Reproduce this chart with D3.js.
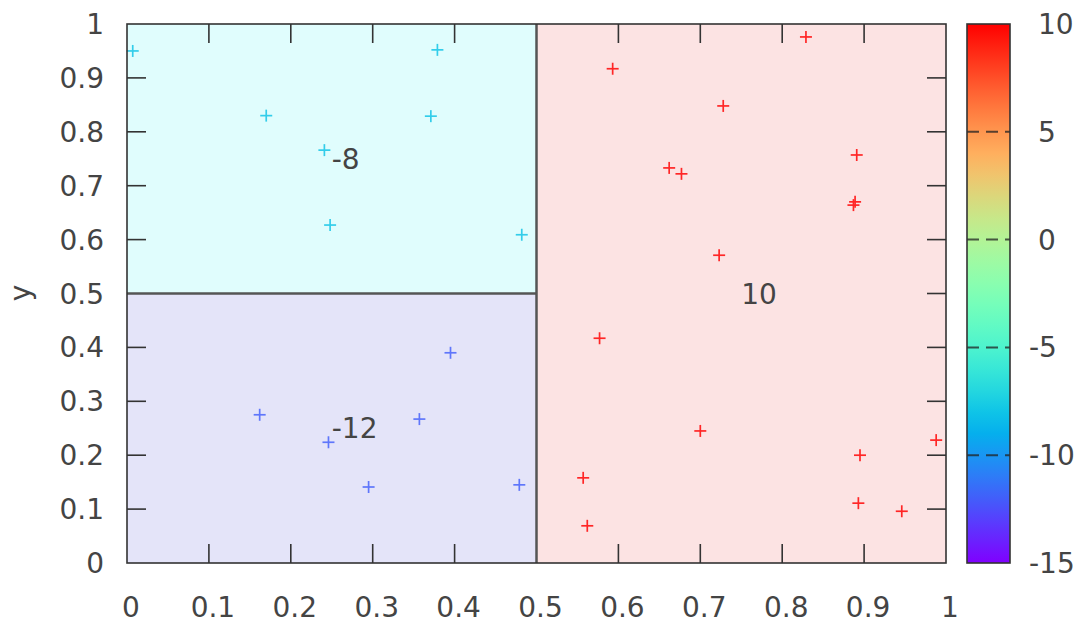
<!DOCTYPE html>
<html><head><meta charset="utf-8">
<script src="https://cdn.jsdelivr.net/npm/d3@7"></script>
<style>body{margin:0;background:#fff}text{font-family:"DejaVu Sans",sans-serif}</style>
</head><body><svg id="c" width="1079" height="625"></svg>
<script>
const xTicks = [0,0.1,0.2,0.3,0.4,0.5,0.6,0.7,0.8,0.9,1];
const yTicks = [0,0.1,0.2,0.3,0.4,0.5,0.6,0.7,0.8,0.9,1];
const cbTicks = [-15,-10,-5,0,5,10];
// regions
const regionX0 = [0, 0, 0.5];
const regionX1 = [0.5, 0.5, 1];
const regionY0 = [0.5, 0, 0];
const regionY1 = [1, 0.5, 1];
const regionValue = [-8, -12, 10];
const labelX = [0.25, 0.25, 0.75];
const labelY = [0.75, 0.25, 0.5];
// points per region
const cyanX = [0.007,0.17,0.241,0.379,0.371,0.248,0.482];
const cyanY = [0.95,0.83,0.766,0.952,0.829,0.627,0.609];
const blueX = [0.162,0.246,0.295,0.357,0.395,0.479];
const blueY = [0.275,0.224,0.141,0.267,0.39,0.145];
const redX = [0.593,0.829,0.728,0.662,0.677,0.891,0.887,0.889,0.723,0.577,0.7,0.988,0.895,0.557,0.562,0.893,0.946];
const redY = [0.917,0.976,0.848,0.733,0.722,0.757,0.664,0.67,0.571,0.417,0.245,0.228,0.2,0.158,0.069,0.111,0.096];

const svg = d3.select("#c");
const L=127,R=946,T=24,B=563;
const x = d3.scaleLinear().domain([0,1]).range([L,R]);
const y = d3.scaleLinear().domain([0,1]).range([B,T]);
const cb = d3.scaleLinear().domain([-15,10]).range([B,T]);
function pal(v){
  const t=(v+15)/25;
  const r=Math.min(1,Math.abs(2*t-0.5)), g=Math.max(0,Math.sin(Math.PI*t)), b=Math.max(0,Math.cos(Math.PI*t/2));
  return d3.rgb(r*255,g*255,b*255);
}
const regionFill = {"-8":"#e0fdfd","-12":"#e4e4f9","10":"#fce3e3"};
const textCol="#444", axisCol="#333", FS=28;

regionValue.forEach((v,i)=>{
  svg.append("rect").attr("x",x(regionX0[i])).attr("y",y(regionY1[i]))
    .attr("width",x(regionX1[i])-x(regionX0[i])).attr("height",y(regionY0[i])-y(regionY1[i]))
    .attr("fill",regionFill[v]);
});
svg.append("line").attr("x1",x(0)).attr("x2",x(0.5)).attr("y1",y(0.5)).attr("y2",y(0.5)).attr("stroke","#555").attr("stroke-width",2.5);
svg.append("line").attr("x1",x(0.5)).attr("x2",x(0.5)).attr("y1",y(0)).attr("y2",y(1)).attr("stroke","#555").attr("stroke-width",2.5);

function plus(xs,ys,v){
  const c=d3.interpolateRgb(pal(v),"#fff")(0.15);
  const g=svg.append("g").attr("stroke",c).attr("stroke-width",1.7);
  xs.forEach((xv,i)=>{
    const px=x(xv), py=y(ys[i]);
    g.append("line").attr("x1",px-6).attr("x2",px+6).attr("y1",py).attr("y2",py);
    g.append("line").attr("x1",px).attr("x2",px).attr("y1",py-6).attr("y2",py+6);
  });
}
plus(cyanX,cyanY,-8); plus(blueX,blueY,-12); plus(redX,redY,10);

regionValue.forEach((v,i)=>{
  svg.append("text").attr("x",x(labelX[i])).attr("y",y(labelY[i])).attr("dy","0.36em")
    .attr("font-size",FS).attr("fill",textCol).text(v);
});

const tl=19;
const inner = d=>d>0&&d<1;
const gt=svg.append("g").attr("stroke",axisCol).attr("stroke-width",1.6);
xTicks.filter(d=>inner(d)&&d!==0.5).forEach(d=>{
  gt.append("line").attr("x1",x(d)).attr("x2",x(d)).attr("y1",B).attr("y2",B-tl);
  gt.append("line").attr("x1",x(d)).attr("x2",x(d)).attr("y1",T).attr("y2",T+tl);
});
yTicks.filter(inner).forEach(d=>{
  if(d!==0.5) gt.append("line").attr("x1",L).attr("x2",L+tl).attr("y1",y(d)).attr("y2",y(d));
  gt.append("line").attr("x1",R).attr("x2",R-tl).attr("y1",y(d)).attr("y2",y(d));
});
svg.append("rect").attr("x",L).attr("y",T).attr("width",R-L).attr("height",B-T)
  .attr("fill","none").attr("stroke",axisCol).attr("stroke-width",1.6);

xTicks.forEach(d=>svg.append("text").attr("x",x(d)+4).attr("y",617).attr("text-anchor","middle")
  .attr("font-size",FS).attr("fill",textCol).text(d3.format("~g")(d)));
yTicks.forEach(d=>svg.append("text").attr("x",104).attr("y",y(d)).attr("dy","0.36em").attr("text-anchor","end")
  .attr("font-size",FS).attr("fill",textCol).text(d3.format("~g")(d)));
svg.append("text").attr("transform","translate(20,293) rotate(-90)").attr("text-anchor","middle").attr("dy","0.36em")
  .attr("font-size",FS).attr("fill",textCol).text("y");

const CL=967, CR=1010;
const grad=svg.append("defs").append("linearGradient").attr("id","cbg").attr("x1",0).attr("y1",1).attr("x2",0).attr("y2",0);
d3.range(0,26).forEach(k=>{
  grad.append("stop").attr("offset",k/25).attr("stop-color",pal(-15+k));
});
svg.append("rect").attr("x",CL).attr("y",T).attr("width",CR-CL).attr("height",B-T).attr("fill","url(#cbg)");
cbTicks.filter(d=>d>-15&&d<10).forEach(d=>{
  svg.append("line").attr("x1",CL).attr("x2",CR).attr("y1",cb(d)).attr("y2",cb(d))
    .attr("stroke","#222").attr("stroke-opacity",0.75).attr("stroke-width",2).attr("stroke-dasharray","12,7");
});
svg.append("rect").attr("x",CL).attr("y",T).attr("width",CR-CL).attr("height",B-T)
  .attr("fill","none").attr("stroke",axisCol).attr("stroke-width",1.6);
cbTicks.forEach(d=>svg.append("text").attr("x",d<0?1029:1038).attr("y",cb(d)).attr("dy","0.36em")
  .attr("font-size",FS).attr("fill",textCol).text(d));
</script></body></html>
